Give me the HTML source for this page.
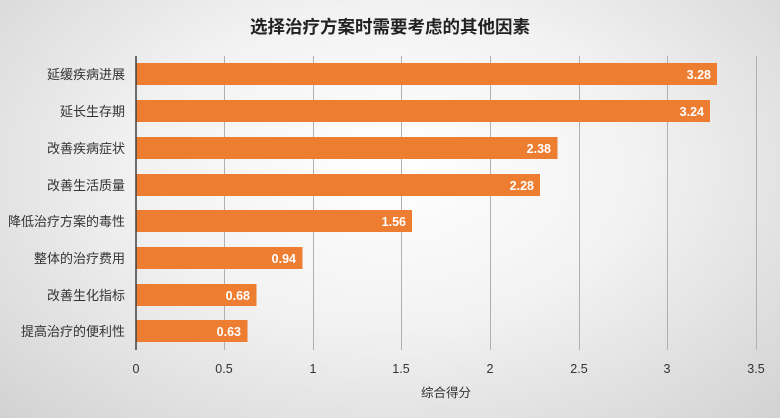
<!DOCTYPE html><html><head><meta charset="utf-8"><style>
body{margin:0}
#c{position:relative;width:780px;height:418px;overflow:hidden;background:radial-gradient(ellipse at 50% 40%,#ffffff 0%,#f2f2f2 45%,#d2d2d2 100%);font-family:"Liberation Sans","Noto Sans CJK SC",sans-serif;}
</style></head><body><div id="c">
<svg width="780" height="418" style="position:absolute;left:0;top:0" font-family="Liberation Sans, Noto Sans CJK SC, sans-serif">
<text x="390" y="33" text-anchor="middle" font-size="17.5" font-weight="bold" fill="#222">选择治疗方案时需要考虑的其他因素</text>
<g stroke="#b0b0b0" stroke-width="1">
<line x1="224.5" y1="56" x2="224.5" y2="350"/><line x1="313.5" y1="56" x2="313.5" y2="350"/><line x1="401.5" y1="56" x2="401.5" y2="350"/><line x1="490.5" y1="56" x2="490.5" y2="350"/><line x1="579.5" y1="56" x2="579.5" y2="350"/><line x1="667.5" y1="56" x2="667.5" y2="350"/><line x1="756.5" y1="56" x2="756.5" y2="350"/>
</g>
<g fill="#ed7d31">
<rect x="136" y="63" width="581" height="22"/>
<rect x="136" y="100" width="574" height="22"/>
<rect x="136" y="137" width="421.5" height="22"/>
<rect x="136" y="174" width="404" height="22"/>
<rect x="136" y="210" width="276" height="22"/>
<rect x="136" y="247" width="166.5" height="22"/>
<rect x="136" y="284" width="120.5" height="22"/>
<rect x="136" y="320" width="111.5" height="22"/>
</g>
<line x1="136" y1="56" x2="136" y2="350" stroke="#404040" stroke-width="1.5"/>
<g fill="#fff" font-size="12.5" font-weight="bold" text-anchor="end">
<text x="711" y="79">3.28</text><text x="704" y="116">3.24</text><text x="551" y="153">2.38</text><text x="534" y="190">2.28</text><text x="406" y="226">1.56</text><text x="296" y="263">0.94</text><text x="250" y="300">0.68</text><text x="241" y="336">0.63</text>
</g>
<g fill="#333" font-size="13" text-anchor="end">
<text x="125" y="79">延缓疾病进展</text><text x="125" y="116">延长生存期</text><text x="125" y="153">改善疾病症状</text><text x="125" y="190">改善生活质量</text><text x="125" y="226">降低治疗方案的毒性</text><text x="125" y="263">整体的治疗费用</text><text x="125" y="300">改善生化指标</text><text x="125" y="336">提高治疗的便利性</text>
</g>
<g fill="#333" font-size="12.5" text-anchor="middle">
<text x="136" y="373">0</text><text x="224" y="373">0.5</text><text x="313" y="373">1</text><text x="401" y="373">1.5</text><text x="490" y="373">2</text><text x="579" y="373">2.5</text><text x="667" y="373">3</text><text x="756" y="373">3.5</text>
<text x="446" y="397">综合得分</text>
</g>
</svg></div></body></html>
